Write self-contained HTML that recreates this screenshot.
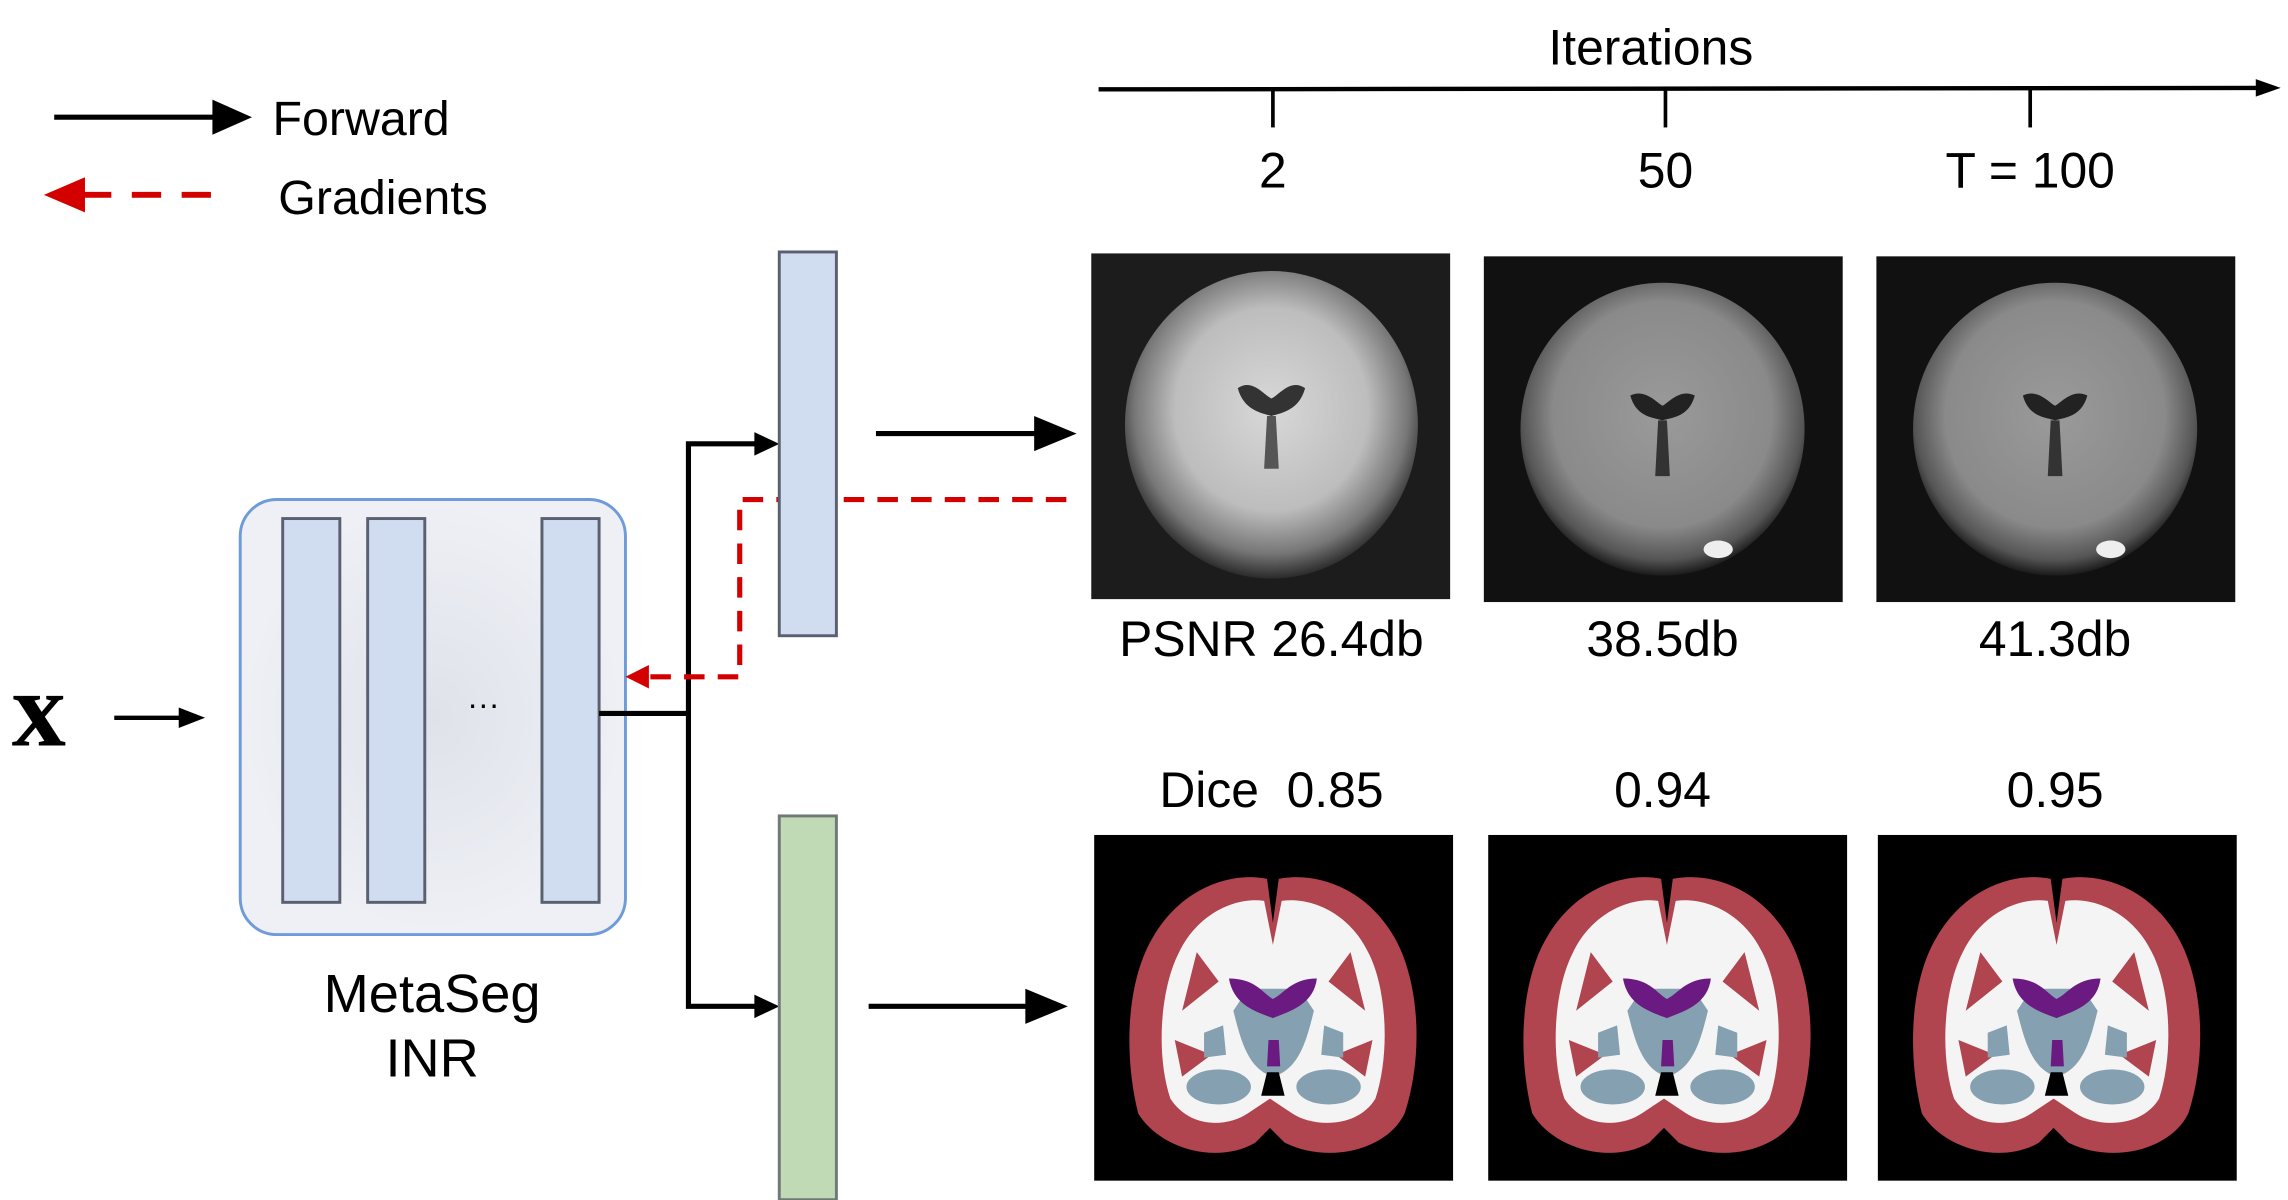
<!DOCTYPE html>
<html><head><meta charset="utf-8"><style>
html,body{margin:0;padding:0;background:#fff}
svg{display:block}
text{font-family:"Liberation Sans",Arial,sans-serif;fill:#000}
</style></head><body>
<svg width="2288" height="1200" viewBox="0 0 1562 819.2" preserveAspectRatio="none" xmlns="http://www.w3.org/2000/svg">
<defs>
<radialGradient id="g1" cx="50%" cy="45%" r="55%"><stop offset="0" stop-color="#d8d8d8"/><stop offset="0.6" stop-color="#bdbdbd"/><stop offset="0.85" stop-color="#777"/><stop offset="1" stop-color="#2a2a2a"/></radialGradient>
<radialGradient id="g2" cx="50%" cy="45%" r="55%"><stop offset="0" stop-color="#9a9a9a"/><stop offset="0.7" stop-color="#8a8a8a"/><stop offset="0.9" stop-color="#555"/><stop offset="1" stop-color="#1a1a1a"/></radialGradient>
<radialGradient id="gb" cx="50%" cy="50%" r="50%"><stop offset="0" stop-color="#dfe2ea"/><stop offset="1" stop-color="#eef0f5"/></radialGradient>
<g id="seg">
<rect width="245" height="236" fill="#000"/>
<path d="M118,30 C95,25 60,35 40,70 C22,100 20,150 30,190 C45,215 85,225 110,210 L120,200 L130,210 C160,225 200,215 212,190 C225,150 222,100 205,70 C185,35 150,25 126,30 L122,60 Z" fill="#b0444f"/>
<path d="M116,45 C95,42 70,55 58,80 C45,105 42,150 52,180 C65,200 90,200 105,190 L120,180 L135,190 C150,200 180,200 192,180 C202,150 200,105 187,80 C175,55 150,42 128,45 L122,75 Z" fill="#f4f4f4"/>
<path d="M70,80 L85,100 L60,120 Z M175,80 L160,100 L185,120 Z M55,140 L80,150 L60,165 Z M190,140 L165,150 L185,165 Z" fill="#b0444f"/>
<path d="M95,120 C100,140 105,160 122,165 C140,160 145,140 150,120 L140,105 L105,105 Z" fill="#85a0b0"/>
<path d="M92,98 C110,98 115,108 122,112 C130,108 135,98 152,98 C150,115 135,120 122,125 C108,120 95,115 92,98 Z" fill="#6a1a80"/>
<path d="M119,140 L126,140 L127,158 L118,158 Z" fill="#6a1a80"/>
<path d="M118,162 L126,162 L130,178 L114,178 Z" fill="#000"/>
<ellipse cx="85" cy="172" rx="22" ry="12" fill="#85a0b0"/>
<ellipse cx="160" cy="172" rx="22" ry="12" fill="#85a0b0"/>
<path d="M75,135 L88,130 L90,150 L75,152 Z M170,135 L157,130 L155,150 L170,152 Z" fill="#85a0b0"/>
</g>
<g id="mri2">
<rect width="245" height="236" fill="#111"/>
<ellipse cx="122" cy="118" rx="97" ry="100" fill="url(#g2)"/>
<path d="M100,95 C110,90 118,100 122,102 C126,100 134,90 144,95 C140,110 128,110 122,112 C116,110 104,110 100,95 Z" fill="#222"/>
<path d="M119,112 L125,112 L127,150 L117,150 Z" fill="#333"/>
<ellipse cx="160" cy="200" rx="10" ry="6" fill="#eee"/>
</g>
</defs>

<!-- legend -->
<line x1="37" y1="80" x2="148" y2="80" stroke="#000" stroke-width="3.5"/>
<polygon points="145,68 172,80 145,92" fill="#000"/>
<text x="186" y="92" font-size="33">Forward</text>
<polygon points="58,121 30,133 58,145" fill="#d40000"/>
<line x1="56" y1="133" x2="155" y2="133" stroke="#d40000" stroke-width="4" stroke-dasharray="20,14"/>
<text x="190" y="146" font-size="33">Gradients</text>

<!-- iterations axis -->
<text x="1127" y="44" font-size="34" text-anchor="middle">Iterations</text>
<line x1="750" y1="61" x2="1545" y2="60" stroke="#000" stroke-width="3"/>
<polygon points="1540,54 1557,60 1540,66" fill="#000"/>
<line x1="869" y1="61" x2="869" y2="87" stroke="#000" stroke-width="2.5"/>
<line x1="1137" y1="61" x2="1137" y2="87" stroke="#000" stroke-width="2.5"/>
<line x1="1386" y1="61" x2="1386" y2="87" stroke="#000" stroke-width="2.5"/>
<text x="869" y="128" font-size="34" text-anchor="middle">2</text>
<text x="1137" y="128" font-size="34" text-anchor="middle">50</text>
<text x="1386" y="128" font-size="34" text-anchor="middle">T = 100</text>

<!-- top images -->
<rect x="745" y="173" width="245" height="236" fill="#1c1c1c"/>
<ellipse cx="868" cy="290" rx="100" ry="105" fill="url(#g1)"/>
<path d="M845,265 C855,258 863,270 868,272 C873,270 881,258 891,265 C887,280 875,282 868,284 C861,282 849,280 845,265 Z" fill="#333"/>
<path d="M865,284 L871,284 L873,320 L863,320 Z" fill="#555"/>
<use href="#mri2" x="1013" y="175"/>
<use href="#mri2" x="1281" y="175"/>
<text x="868" y="448" font-size="34" text-anchor="middle">PSNR 26.4db</text>
<text x="1135" y="448" font-size="34" text-anchor="middle">38.5db</text>
<text x="1403" y="448" font-size="34" text-anchor="middle">41.3db</text>

<text x="868" y="551" font-size="34" text-anchor="middle" xml:space="preserve">Dice  0.85</text>
<text x="1135" y="551" font-size="34" text-anchor="middle">0.94</text>
<text x="1403" y="551" font-size="34" text-anchor="middle">0.95</text>
<use href="#seg" x="747" y="570"/>
<use href="#seg" x="1016" y="570"/>
<use href="#seg" x="1282" y="570"/>

<!-- left input -->
<text x="8" y="509" font-size="74" font-weight="bold" style="font-family:'Liberation Serif',serif">x</text>
<line x1="78" y1="490" x2="125" y2="490" stroke="#000" stroke-width="3"/>
<polygon points="122,483 140,490 122,497" fill="#000"/>

<!-- MetaSeg box -->
<rect x="164" y="341" width="263" height="297" rx="25" fill="url(#gb)" stroke="#6f9bd8" stroke-width="2"/>
<rect x="193" y="354" width="39" height="262" fill="#d0dcef" stroke="#5a6070" stroke-width="2"/>
<rect x="251" y="354" width="39" height="262" fill="#d0dcef" stroke="#5a6070" stroke-width="2"/>
<rect x="370" y="354" width="39" height="262" fill="#d0dcef" stroke="#5a6070" stroke-width="2"/>
<text x="330" y="488" font-size="22" text-anchor="middle">···</text>
<text x="295" y="691" font-size="37" text-anchor="middle">MetaSeg</text>
<text x="295" y="735" font-size="37" text-anchor="middle">INR</text>

<!-- connectors -->
<polyline points="409,487 470,487" fill="none" stroke="#000" stroke-width="3.5"/>
<polyline points="518,303 470,303 470,687 518,687" fill="none" stroke="#000" stroke-width="3.5"/>
<polygon points="515,295 532,303 515,311" fill="#000"/>
<polygon points="515,679 532,687 515,695" fill="#000"/>

<!-- red gradient path -->
<polyline points="728,341 505,341 505,462 440,462" fill="none" stroke="#d40000" stroke-width="3.5" stroke-dasharray="14,9"/>
<polygon points="443,454 427,462 443,470" fill="#d40000"/>

<rect x="532" y="172" width="39" height="262" fill="#d0dcef" stroke="#5a6070" stroke-width="2"/>
<rect x="532" y="557" width="39" height="262" fill="#c0dab6" stroke="#707878" stroke-width="2"/>

<line x1="598" y1="296" x2="710" y2="296" stroke="#000" stroke-width="3.5"/>
<polygon points="706,284 735,296 706,308" fill="#000"/>
<line x1="593" y1="687" x2="703" y2="687" stroke="#000" stroke-width="3.5"/>
<polygon points="700,675 729,687 700,699" fill="#000"/>
</svg>
</body></html>
